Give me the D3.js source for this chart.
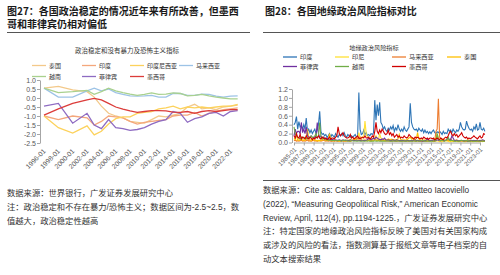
<!DOCTYPE html>
<html>
<head>
<meta charset="utf-8">
<script src="https://cdn.jsdelivr.net/npm/d3@7"></script>
<style>
  body { margin: 0; background: #fff; }
  svg { display: block; font-family: "Liberation Sans", "Noto Sans CJK SC", sans-serif; }
</style>
</head>
<body>
<svg id="chart" width="500" height="275"></svg>
<script>
// ---------- left: political stability & absence of violence (WGI)
const stabYears = [1996, 1998, 2000, 2002, 2003, 2004, 2005, 2006, 2007, 2008, 2009, 2010,
  2011, 2012, 2013, 2014, 2015, 2016, 2017, 2018, 2019, 2020, 2021, 2022, 2023];
const stabNames = ['泰国', '印度', '印度尼西亚', '马来西亚', '越南', '菲律宾', '墨西哥'];
const stabThailand = [0.55, 0.65, 0.45, 0.35, 0.05, -0.45, -0.85, -1.0, -1.1, -1.3, -1.35, -1.4,
  -1.2, -1.0, -1.05, -0.95, -0.85, -0.5, -0.35, -0.6, -0.55, -0.65, -0.5, -0.45, -0.4];
const stabIndia = [-1.0, -1.2, -1.0, -1.1, -1.5, -1.3, -1.0, -1.05, -1.1, -1.3, -1.45, -1.35,
  -1.3, -1.25, -1.2, -1.0, -0.95, -0.95, -0.8, -1.0, -0.85, -0.75, -0.65, -0.6, -0.55];
const stabIndonesia = [-1.0, -1.65, -1.95, -1.55, -2.05, -1.85, -1.45, -1.15, -1.05, -1.05, -0.85, -0.8,
  -0.75, -0.6, -0.55, -0.45, -0.6, -0.5, -0.55, -0.5, -0.55, -0.5, -0.45, -0.45, -0.35];
const stabMalaysia = [0.55, 0.05, 0.05, 0.4, 0.55, 0.4, 0.5, 0.3, 0.2, 0.12, 0.1, 0.12,
  0.15, 0.05, 0.05, 0.25, 0.25, 0.15, 0.15, 0.22, 0.2, 0.1, 0.05, 0.1, 0.12];
const stabVietnam = [0.55, 0.3, 0.35, 0.42, 0.2, 0.35, 0.55, 0.4, 0.3, 0.22, 0.15, 0.2,
  0.28, 0.2, 0.22, 0.28, 0.25, 0.12, 0.15, 0.2, 0.12, 0.05, 0.0, -0.05, -0.05];
const stabPhilippines = [-0.45, -0.3, -1.4, -0.85, -1.5, -1.7, -1.2, -1.65, -1.7, -1.8, -1.75, -1.65,
  -1.45, -1.3, -1.2, -0.75, -0.85, -1.35, -1.15, -1.05, -0.85, -0.8, -1.0, -0.75, -0.7];
const stabMexico = [-0.95, -0.6, -0.3, -0.1, -0.02, -0.1, -0.3, -0.5, -0.62, -0.72, -0.8, -0.75,
  -0.7, -0.7, -0.72, -0.78, -0.8, -0.75, -0.85, -0.75, -0.7, -0.75, -0.7, -0.65, -0.65];
const stabTickYears = d3.range(1996, 2023, 2);

// ---------- right: geopolitical risk index, quarterly from 1985 Q1
const gprStart = 1985;
const gprNames = ['印度', '印尼', '马来西亚', '泰国', '菲律宾', '越南', '墨西哥'];
const gprIndia = [
  .40,.45,.58,.30, .47,.35,.38,.30, .40,.30,.55,.25, .30,.22,.28,.20, .25,.30,.20,.28,
  .40,.70,.25,.18, .20,.15,.18,.12, .15,.20,.12,.18, .15,.12,.20,.15, .12,.18,.15,.20,
  .15,.22,.15,.12, .18,.15,.12,.15, .12,.15,.18,.12, .15,1.12,.30,.18, .20,.28,.18,.22,
  .15,.18,.15,.20, .18,.22,.95,.50, .85,.60,.90,.45, .40,.30,.35,.28, .25,.32,.28,.35,
  .30,.38,.25,.33, .28,.40,.30,.25, .30,.25,.35,.28, .25,.30,.35,.88, .45,.35,.30,.28,
  .30,.25,.32,.28, .25,.30,.22,.28, .22,.25,.20,.24, .20,.25,.28,.22, .20,.24,.22,.25,
  .22,.18,.25,.20, .22,.20,.30,.25, .28,.22,.30,.25, .22,.28,.25,.30, .45,.35,.30,.28,
  .30,.48,.38,.32, .28,.30,.25,.35, .30,.42,.28,.30, .45,.30,.28,.32, .25];
const gprIndonesia = [
  .05,.08,.04,.06, .05,.04,.06,.05, .04,.06,.05,.04, .05,.04,.03,.05, .04,.05,.04,.03,
  .04,.03,.05,.04, .05,.04,.06,.08, .04,.05,.04,.03, .04,.03,.05,.04, .03,.04,.03,.05,
  .04,.03,.04,.05, .04,.06,.08,.05, .05,.06,.08,.10, .12,.22,.10,.12, .10,.15,.48,.20,
  .12,.10,.08,.10, .08,.10,.12,.15, .08,.06,.20,.10, .08,.06,.07,.05, .06,.05,.07,.06,
  .08,.06,.05,.04, .04,.05,.04,.03, .04,.03,.04,.03, .03,.04,.03,.04, .04,.06,.05,.03,
  .03,.04,.03,.03, .03,.04,.03,.03, .03,.03,.04,.03, .03,.03,.02,.03, .03,.04,.03,.02,
  .03,.02,.03,.03, .05,.03,.03,.02, .02,.03,.02,.03, .03,.04,.02,.02, .03,.04,.03,.02,
  .02,.03,.02,.03, .02,.03,.02,.02, .03,.02,.03,.02, .02,.03,.02,.03, .03];
const gprMalaysia = [
  .04,.05,.03,.04, .03,.04,.05,.03, .04,.03,.04,.06, .03,.04,.03,.04, .05,.03,.04,.03,
  .04,.05,.03,.04, .06,.04,.03,.04, .03,.04,.03,.03, .04,.03,.04,.03, .03,.04,.03,.04,
  .03,.03,.04,.03, .04,.03,.03,.04, .05,.04,.06,.08, .10,.08,.12,.06, .05,.04,.05,.04,
  .05,.06,.04,.05, .04,.05,.08,.06, .05,.04,.05,.04, .04,.05,.04,.03, .04,.03,.04,.03,
  .03,.04,.03,.03, .03,.03,.04,.03, .03,.04,.03,.03, .04,.03,.03,.04, .03,.03,.04,.03,
  .03,.04,.03,.03, .03,.03,.03,.04, .03,.03,.04,.03, .05,.04,.03,.03, .25,.30,.98,.12,
  .08,.05,.06,.05, .04,.05,.04,.05, .08,.05,.04,.04, .05,.06,.04,.04, .04,.03,.04,.03,
  .03,.04,.03,.03, .03,.03,.03,.04, .03,.04,.03,.03, .03,.03,.04,.03, .03];
const gprThailand = [
  .08,.10,.15,.06, .05,.06,.08,.05, .06,.05,.08,.30, .10,.06,.05,.08, .05,.06,.05,.04,
  .05,.04,.06,.05, .12,.06,.05,.04, .06,.20,.08,.05, .04,.05,.04,.05, .04,.03,.04,.05,
  .04,.05,.03,.04, .05,.04,.03,.04, .06,.05,.08,.06, .05,.06,.04,.05, .04,.05,.06,.04,
  .04,.05,.04,.03, .05,.04,.06,.05, .04,.05,.04,.06, .05,.04,.05,.04, .06,.08,.06,.07,
  .06,.05,.06,.05, .07,.08,.18,.08, .06,.05,.06,.05, .06,.08,.10,.12, .08,.10,.06,.05,
  .10,.22,.08,.06, .05,.06,.05,.06, .04,.05,.04,.04, .05,.04,.05,.08, .10,.20,.08,.06,
  .05,.06,.08,.05, .04,.05,.06,.05, .04,.05,.04,.04, .04,.03,.04,.04, .05,.04,.04,.03,
  .04,.03,.06,.05, .04,.03,.04,.03, .03,.04,.03,.04, .04,.05,.04,.03, .04];
const gprPhilippines = [
  .15,.30,.20,.25, .25,.20,.45,.22, .30,.20,.35,.15, .12,.10,.15,.12, .10,.12,.15,.45,
  .20,.12,.15,.10, .12,.10,.08,.10, .08,.06,.08,.07, .06,.05,.06,.05, .05,.06,.05,.04,
  .06,.05,.04,.05, .05,.04,.06,.05, .04,.05,.04,.05, .05,.04,.05,.04, .04,.05,.04,.05,
  .06,.10,.08,.06, .08,.10,.08,.12, .10,.08,.07,.06, .08,.07,.10,.06, .05,.06,.05,.04,
  .05,.06,.04,.05, .06,.05,.04,.05, .04,.05,.04,.04, .04,.05,.04,.04, .05,.04,.05,.06,
  .04,.05,.04,.04, .04,.03,.04,.04, .05,.08,.05,.04, .05,.04,.06,.05, .04,.06,.05,.04,
  .04,.05,.04,.04, .05,.08,.10,.06, .06,.15,.10,.05, .04,.05,.04,.04, .04,.05,.04,.04,
  .04,.04,.03,.04, .04,.05,.04,.05, .04,.05,.04,.04, .05,.04,.06,.05, .04];
const gprVietnam = [
  .35,.20,.15,.12, .10,.08,.12,.10, .12,.10,.08,.10, .10,.12,.15,.10, .12,.15,.20,.10,
  .15,.45,.12,.08, .10,.08,.06,.07, .05,.06,.05,.04, .05,.04,.05,.04, .04,.05,.04,.03,
  .05,.04,.06,.04, .03,.04,.03,.04, .04,.03,.04,.03, .03,.04,.03,.03, .04,.03,.03,.04,
  .03,.04,.03,.03, .03,.03,.04,.03, .03,.04,.03,.03, .03,.03,.03,.04, .03,.04,.03,.03,
  .03,.03,.04,.03, .03,.04,.03,.03, .03,.03,.04,.03, .03,.04,.03,.03, .03,.03,.04,.03,
  .03,.04,.03,.03, .04,.05,.03,.03, .03,.04,.03,.03, .03,.03,.04,.03, .04,.20,.08,.05,
  .04,.05,.04,.03, .05,.06,.12,.05, .04,.05,.04,.03, .03,.04,.03,.03, .04,.05,.04,.03,
  .04,.05,.03,.03, .03,.04,.03,.03, .03,.03,.04,.03, .03,.04,.03,.03, .03];
const gprMexico = [
  .15,.10,.20,.12, .10,.18,.08,.12, .10,.08,.15,.10, .08,.12,.10,.06, .10,.08,.12,.10,
  .15,.10,.08,.12, .10,.08,.10,.06, .08,.12,.07,.10, .10,.08,.12,.15, .35,.20,.15,.18,
  .22,.15,.12,.10, .10,.12,.18,.10, .12,.08,.10,.12, .15,.10,.08,.10, .12,.10,.15,.10,
  .10,.12,.08,.10, .15,.12,.25,.45, .25,.20,.28,.22, .30,.25,.20,.18, .20,.28,.18,.22,
  .15,.20,.12,.15, .18,.12,.15,.10, .12,.10,.15,.12, .10,.12,.18,.15, .12,.10,.08,.12,
  .10,.12,.10,.08, .10,.08,.12,.10, .08,.10,.07,.10, .10,.08,.10,.06, .08,.10,.08,.07,
  .10,.08,.06,.10, .12,.10,.15,.22, .25,.18,.15,.20, .15,.18,.12,.15, .18,.22,.15,.12,
  .10,.12,.08,.10, .08,.10,.12,.15, .12,.10,.08,.12, .15,.10,.12,.20, .18];
const gprTickYears = d3.range(1985, 2024, 2);

const svg = d3.select('#chart');
const fmt = d => d3.format('.1f')(d).replace('\u2212', '-');
const cjk = '"Noto Sans CJK SC", sans-serif';

// ---------- headers
const headers = [
  { x: 7, lines: ['图27：各国政治稳定的情况近年来有所改善，但墨西', '哥和菲律宾仍相对偏低'], rule: [7, 250] },
  { x: 265, lines: ['图28：各国地缘政治风险指标对比'], rule: [263, 500] }
];
headers.forEach(h => {
  h.lines.forEach((t, i) => {
    svg.append('text')
      .attr('x', h.x).attr('y', 14.5 + i * 13.5)
      .style('font-family', cjk)
      .style('font-size', '10px').style('font-weight', 700)
      .style('fill', '#1a1a1a')
      .text(t);
  });
  svg.append('line')
    .attr('x1', h.rule[0]).attr('x2', h.rule[1])
    .attr('y1', 32.5).attr('y2', 32.5)
    .attr('stroke', '#555').attr('stroke-width', 1);
});

// ---------- left chart
const leftColors = ['#f3c98a', '#f4a77c', '#fcd25c', '#9dc3e6', '#a9d18e', '#8e6bc2', '#dc3c3a'];
const leftSeries = [stabThailand, stabIndia, stabIndonesia, stabMalaysia, stabVietnam, stabPhilippines, stabMexico];

const xL = d3.scaleLinear().domain([1996, 2022]).range([44, 230.5]);
const yL = d3.scaleLinear().domain([-2.5, 1]).range([143, 80]);

svg.append('text')
  .attr('x', 127).attr('y', 52.5)
  .attr('text-anchor', 'middle')
  .style('font-family', cjk).style('font-size', '6.5px').style('fill', '#333')
  .text('政治稳定和没有暴力及恐怖主义指标');

const leftAxis = svg.append('g')
  .attr('transform', 'translate(40,0)')
  .call(d3.axisLeft(yL).tickValues(d3.range(-2.5, 1.01, 0.5)).tickSize(3).tickSizeOuter(0).tickFormat(fmt));
leftAxis.selectAll('path, line').attr('stroke', '#a6a6a6');
leftAxis.selectAll('text').style('font-size', '7px').style('fill', '#595959').attr('x', -4);

const leftX = svg.append('g')
  .attr('transform', 'translate(0,150)')
  .call(d3.axisBottom(xL).tickValues(stabTickYears).tickSize(0).tickFormat(d => d + '-01'));
leftX.select('.domain').remove();
leftX.selectAll('text')
  .attr('y', 0).attr('dy', '0.35em')
  .attr('transform', 'rotate(-45)')
  .style('text-anchor', 'end')
  .style('font-size', '6.8px').style('fill', '#595959');

const lineL = d3.line().x((d, i) => xL(stabYears[i])).y(d => yL(d));
svg.append('g').selectAll('path')
  .data(leftSeries)
  .enter().append('path')
    .attr('d', lineL)
    .attr('fill', 'none')
    .attr('stroke', (d, i) => leftColors[i])
    .attr('stroke-width', 1.3);

const leftLegCols = [32, 82, 130, 179];
stabNames.forEach((n, i) => {
  const lx = leftLegCols[i % 4], ly = 65.5 + Math.floor(i / 4) * 11;
  svg.append('line').attr('x1', lx).attr('x2', lx + 14).attr('y1', ly).attr('y2', ly)
    .attr('stroke', leftColors[i]).attr('stroke-width', 1.3);
  svg.append('text').attr('x', lx + 17).attr('y', ly + 2.2)
    .style('font-family', cjk).style('font-size', '6px').style('fill', '#333')
    .text(n);
});

// ---------- right chart
const rightColors = ['#2e75b6', '#ffe033', '#ed7d31', '#ffc000', '#7030a0', '#70ad47', '#d00000'];
const rightSeries = [gprIndia, gprIndonesia, gprMalaysia, gprThailand, gprPhilippines, gprVietnam, gprMexico];

const xR = d3.scaleLinear().domain([1985, 2023]).range([294, 480]);
const yR = d3.scaleLinear().domain([0, 1.2]).range([142.5, 89]);

svg.append('text')
  .attr('x', 374).attr('y', 50)
  .attr('text-anchor', 'middle')
  .style('font-family', cjk).style('font-size', '6.2px').style('fill', '#333')
  .text('地缘政治风险指标');

const rightAxis = svg.append('g')
  .attr('transform', 'translate(292,0)')
  .call(d3.axisLeft(yR).tickValues(d3.range(0, 1.21, 0.2)).tickSize(3).tickSizeOuter(0).tickFormat(fmt));
rightAxis.selectAll('path, line').attr('stroke', '#a6a6a6');
rightAxis.selectAll('text').style('font-size', '7px').style('fill', '#595959').attr('x', -4);

const rightX = svg.append('g')
  .attr('transform', `translate(0,${yR(0)})`)
  .call(d3.axisBottom(xR).tickValues(gprTickYears).tickSize(3).tickSizeOuter(0).tickFormat(d => d + '-01'));
rightX.selectAll('path, line').attr('stroke', '#a6a6a6');
rightX.selectAll('text')
  .attr('y', 0).attr('dy', '0.35em')
  .attr('transform', 'translate(1,6) rotate(-45)')
  .style('text-anchor', 'end')
  .style('font-size', '6.3px').style('fill', '#595959');

const lineR = d3.line().x((d, i) => xR(gprStart + i / 4)).y(d => yR(d));
svg.append('g').selectAll('path')
  .data(rightSeries)
  .enter().append('path')
    .attr('d', lineR)
    .attr('fill', 'none')
    .attr('stroke', (d, i) => rightColors[i])
    .attr('stroke-width', 1.1);

const rightLegCols = [283, 335, 392, 447];
gprNames.forEach((n, i) => {
  const lx = rightLegCols[i % 4], ly = 57 + Math.floor(i / 4) * 9.5;
  svg.append('line').attr('x1', lx).attr('x2', lx + 14).attr('y1', ly).attr('y2', ly)
    .attr('stroke', rightColors[i]).attr('stroke-width', 1.3);
  svg.append('text').attr('x', lx + 17).attr('y', ly + 2.2)
    .style('font-family', cjk).style('font-size', '6.2px').style('fill', '#333')
    .text(n);
});

// ---------- footnotes
svg.append('line').attr('x1', 263).attr('x2', 500).attr('y1', 180.5).attr('y2', 180.5)
  .attr('stroke', '#555').attr('stroke-width', 1);

const notes = [
  { x: 7, y0: 196, lines: ['数据来源：世界银行，广发证券发展研究中心',
    '注：政治稳定和不存在暴力/恐怖主义；数据区间为-2.5~2.5，数',
    '值越大，政治稳定性越高'] },
  { x: 263, y0: 193, lines: ['数据来源：Cite as: Caldara, Dario and Matteo Iacoviello',
    '(2022), \u201cMeasuring Geopolitical Risk,\u201d American Economic',
    'Review, April, 112(4), pp.1194-1225.，广发证券发展研究中心',
    '注：特定国家的地缘政治风险指标反映了美国对有关国家构成',
    '或涉及的风险的看法，指数测算基于报纸文章等电子档案的自',
    '动文本搜索结果'] }
];
notes.forEach(nb => {
  nb.lines.forEach((t, i) => {
    svg.append('text')
      .attr('x', nb.x).attr('y', nb.y0 + i * 13.8)
      .style('font-size', '8.3px').style('fill', '#333')
      .text(t);
  });
});
</script>
</body>
</html>
